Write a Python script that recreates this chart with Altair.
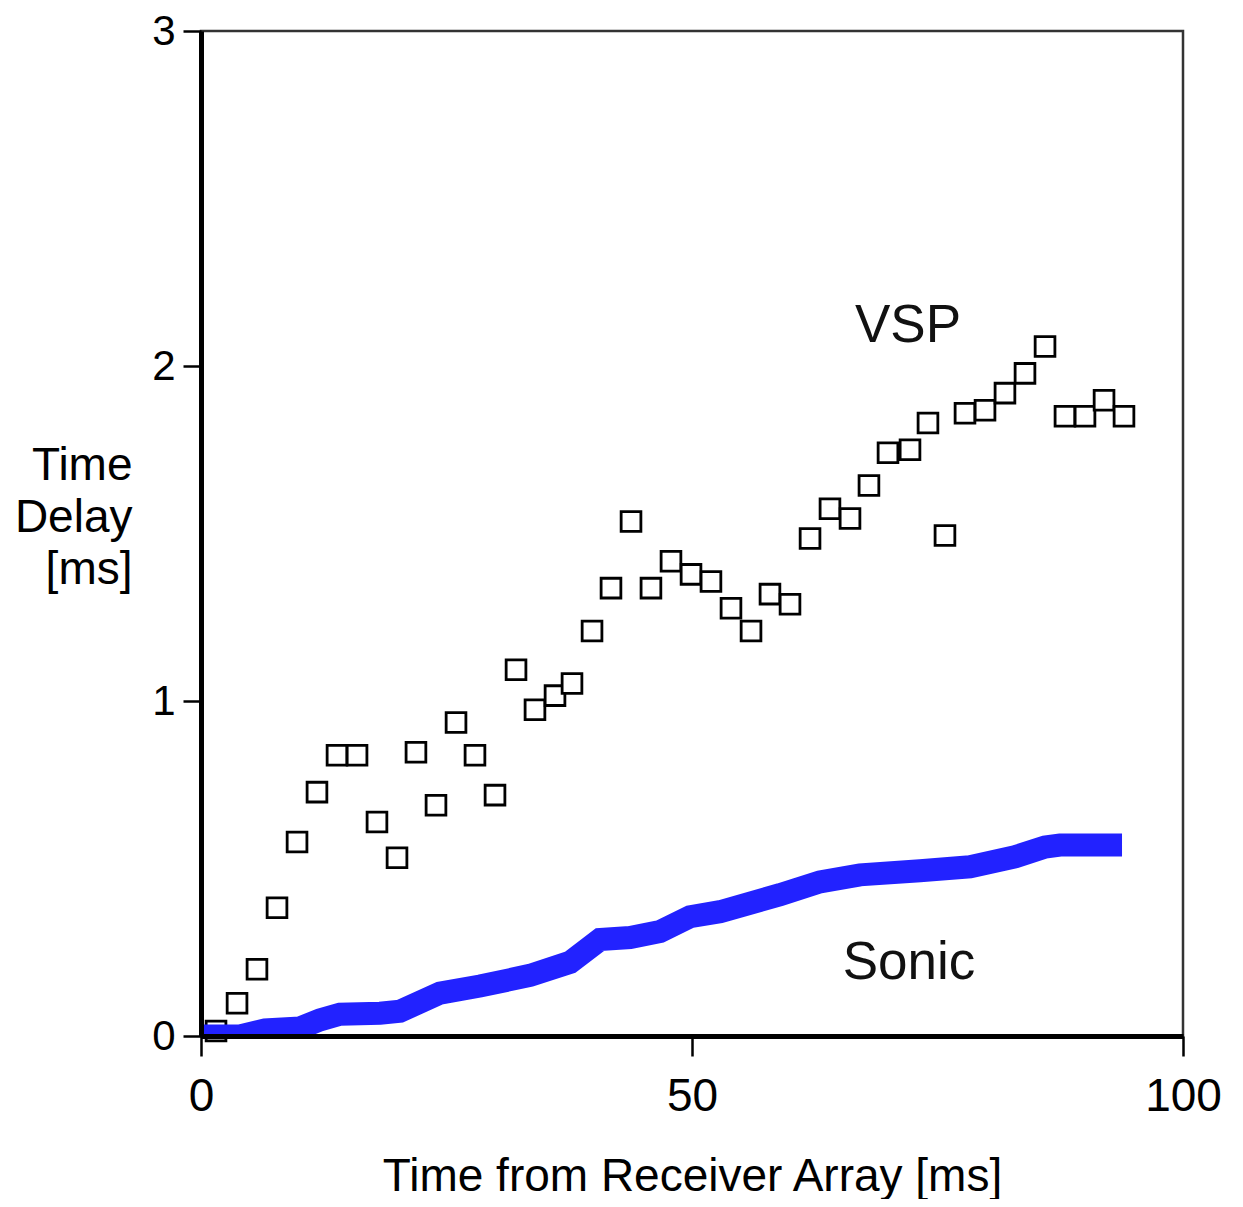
import altair as alt
import pandas as pd

# VSP measurements (open squares)
vsp_x = [1.53, 3.67, 5.70, 7.74, 9.78, 11.81, 13.85, 15.89, 17.92, 19.96, 21.89, 23.93,
         25.97, 27.90, 29.94, 32.08, 34.01, 36.05, 37.78, 39.82, 41.75, 43.79, 45.82,
         47.86, 49.90, 51.93, 53.97, 56.01, 57.94, 59.98, 62.02, 64.05, 66.09, 68.02,
         69.96, 72.20, 74.03, 75.76, 77.80, 79.84, 81.87, 83.91, 85.95, 87.98, 90.02,
         91.96, 93.99]
vsp_y = [0.015, 0.098, 0.199, 0.383, 0.579, 0.728, 0.838, 0.838, 0.639, 0.532, 0.847, 0.689,
         0.936, 0.838, 0.719, 1.093, 0.974, 1.016, 1.052, 1.209, 1.337, 1.536, 1.337,
         1.417, 1.378, 1.357, 1.277, 1.209, 1.319, 1.289, 1.485, 1.574, 1.545, 1.643,
         1.741, 1.750, 1.830, 1.494, 1.859, 1.868, 1.919, 1.978, 2.058, 1.850, 1.850,
         1.898, 1.850]

# Sonic curve (thick blue band)
sonic_x = [0.0, 3.97, 6.52, 10.08, 12.12, 14.15, 18.23, 20.26, 24.34, 28.41, 33.50, 37.58,
           40.63, 43.69, 46.74, 49.80, 52.85, 58.96, 63.03, 67.11, 73.22, 78.31, 82.89,
           85.95, 87.47, 93.79]
sonic_y = [0.0, 0.0, 0.018, 0.024, 0.048, 0.065, 0.068, 0.074, 0.128, 0.149, 0.181, 0.220,
           0.288, 0.294, 0.312, 0.356, 0.371, 0.422, 0.460, 0.481, 0.493, 0.505, 0.535,
           0.564, 0.570, 0.570]

label_text = ["VSP", "Sonic"]
label_x = [72.0, 72.1]
label_y = [2.12, 0.217]

x_ticks = [0, 50, 100]
y_ticks = [0, 1, 2, 3]

FONT = "Liberation Sans"
FS = 46

vsp_df = pd.DataFrame({"x": vsp_x, "y": vsp_y})
sonic_df = pd.DataFrame({"x": sonic_x, "y": sonic_y})
lab_df = pd.DataFrame({"t": label_text, "x": label_x, "y": label_y})

xs = alt.Scale(domain=[0, 100], nice=False, zero=False)
ys = alt.Scale(domain=[0, 3], nice=False, zero=False)

x_axis = alt.Axis(
    values=x_ticks, format="d", title="Time from Receiver Array [ms]", grid=False,
    domainColor="black", domainWidth=5, tickColor="black", tickWidth=2.5, tickSize=20,
    labelFont=FONT, labelFontSize=FS, labelColor="black", labelPadding=18,
    labelFlush=False,
    titleFont=FONT, titleFontSize=FS, titleFontWeight="normal", titleColor="black",
    titlePadding=35, zindex=1,
)
y_axis = alt.Axis(
    values=y_ticks, format="d", title=["Time", "Delay", "[ms]"], grid=False,
    domainColor="black", domainWidth=5, tickColor="black", tickWidth=2.5, tickSize=18,
    labelFont=FONT, labelFontSize=42, labelColor="black", labelPadding=8,
    labelFlush=False,
    titleFont=FONT, titleFontSize=FS, titleFontWeight="normal", titleColor="black",
    titleAngle=0, titleAlign="right", titleBaseline="middle", titleX=-69, titleY=434,
    titleLineHeight=52, zindex=1,
)

points = alt.Chart(vsp_df).mark_point(
    shape="square", filled=False, fill="white", stroke="black", strokeWidth=2.8,
    size=390, opacity=1,
).encode(
    x=alt.X("x:Q", scale=xs, axis=x_axis),
    y=alt.Y("y:Q", scale=ys, axis=y_axis),
)

sonic = alt.Chart(sonic_df).mark_line(
    color="#2222ff", strokeWidth=23, strokeCap="butt", strokeJoin="miter", clip=True,
).encode(
    x=alt.X("x:Q", scale=xs),
    y=alt.Y("y:Q", scale=ys),
)

labels = alt.Chart(lab_df).mark_text(
    font=FONT, fontSize=53, color="#111111", align="center", baseline="middle",
).encode(
    x=alt.X("x:Q", scale=xs),
    y=alt.Y("y:Q", scale=ys),
    text="t:N",
)

chart = alt.layer(points, sonic, labels).properties(
    width=982, height=1005,
    background="white",
    autosize=alt.AutoSizeParams(type="none"),
    padding={"left": 193, "top": 23, "right": 45, "bottom": 163},
).configure_view(
    stroke="#333333", strokeWidth=2.5,
)

chart.save("out.html", embed_options={"renderer": "svg", "actions": False})
